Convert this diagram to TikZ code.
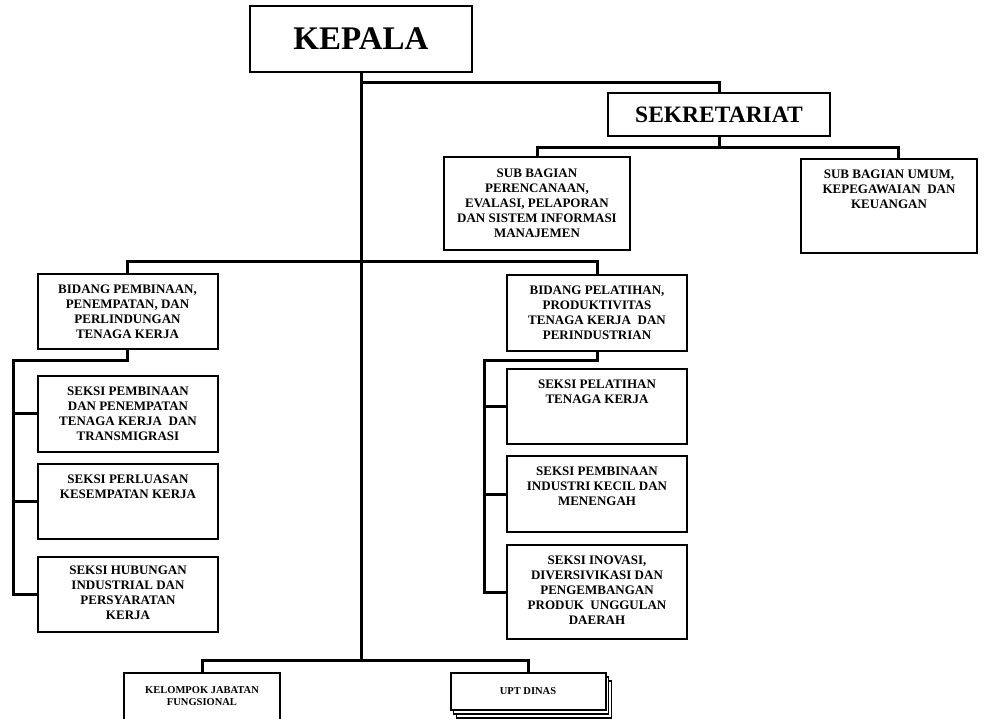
\documentclass[tikz,border=0pt]{standalone}
\usepackage{fontspec}
\setmainfont{Liberation Serif}
\usetikzlibrary{positioning,shadows}

\begin{document}
\begin{tikzpicture}[
    x=1pt, y=-1pt,
    unit/.style = {
      draw=black, fill=white, line width=2pt, inner sep=0pt,
      minimum width=180pt,
    },
    boxtext/.style = {
      anchor=north, yshift=-12pt, inner sep=0pt, align=center,
      font=\bfseries\fontsize{13}{15}\selectfont,
    },
    smalltext/.style = {
      anchor=north, yshift=-14pt, inner sep=0pt, align=center,
      font=\bfseries\fontsize{10.5}{12.5}\selectfont,
    },
    conn/.style = {
      black, line width=3pt,
    },
    node distance = 10pt,
  ]
  \useasboundingbox (0,0) rectangle (994,719);

  % top level
  \node[unit,minimum width=222pt,minimum height=66pt,
    font=\bfseries\fontsize{33}{36}\selectfont] (kepala) at (361,39) {KEPALA};
  \node[unit,minimum width=222pt,minimum height=43pt,
    font=\bfseries\fontsize{23.5}{26}\selectfont] (sekre) at (719,114.5) {SEKRETARIAT};
  \node[unit,minimum width=186pt,minimum height=93pt,
    label={[boxtext]north:{SUB BAGIAN\\PERENCANAAN,\\EVALASI, PELAPORAN\\DAN SISTEM INFORMASI\\MANAJEMEN}}]
    (perenc) at (537,204) {};
  \node[unit,minimum width=176pt,minimum height=94pt,
    label={[boxtext]north:{SUB BAGIAN UMUM,\\KEPEGAWAIAN~ DAN\\KEUANGAN}}]
    (umum) at (889,206) {};

  % bidang kiri
  \node[unit,minimum height=75pt,
    label={[boxtext]north:{BIDANG PEMBINAAN,\\PENEMPATAN, DAN\\PERLINDUNGAN\\TENAGA KERJA}}]
    (bidPemb) at (127.5,311.5) {};
  \node[unit,minimum height=76pt,
    label={[boxtext]north:{SEKSI PEMBINAAN\\DAN PENEMPATAN\\TENAGA KERJA~ DAN\\TRANSMIGRASI}}]
    (seksiPemb) at (128,414) {};
  \node[unit,minimum height=75pt,below=10pt of seksiPemb,
    label={[boxtext]north:{SEKSI PERLUASAN\\KESEMPATAN KERJA}}] (seksiPerl) {};
  \node[unit,minimum height=75pt,below=16pt of seksiPerl,
    label={[boxtext,yshift=2pt]north:{SEKSI HUBUNGAN\\INDUSTRIAL DAN\\PERSYARATAN\\KERJA}}] (seksiHub) {};

  % bidang kanan
  \node[unit,minimum height=76pt,
    label={[boxtext]north:{BIDANG PELATIHAN,\\PRODUKTIVITAS\\TENAGA KERJA~ DAN\\PERINDUSTRIAN}}]
    (bidPel) at (597,313) {};
  \node[unit,minimum height=75pt,
    label={[boxtext]north:{SEKSI PELATIHAN\\TENAGA KERJA}}] (seksiPel) at (597,406.5) {};
  \node[unit,minimum height=76pt,below=10pt of seksiPel,
    label={[boxtext]north:{SEKSI PEMBINAAN\\INDUSTRI KECIL DAN\\MENENGAH}}] (seksiInd) {};
  \node[unit,minimum height=94pt,below=11pt of seksiInd,
    label={[boxtext]north:{SEKSI INOVASI,\\DIVERSIVIKASI DAN\\PENGEMBANGAN\\PRODUK~ UNGGULAN\\DAERAH}}] (seksiIno) {};

  % bawah
  \node[unit,minimum width=156pt,minimum height=60pt,
    label={[smalltext]north:{KELOMPOK JABATAN\\FUNGSIONAL}}] (kelompok) at (202,703) {};
  \node[unit,minimum width=155pt,minimum height=37pt,
    double copy shadow={shadow xshift=3pt,shadow yshift=-4pt,draw=black,fill=white,line width=1.5pt},
    font=\bfseries\fontsize{10.5}{12.5}\selectfont] (upt) at (528,691.5) {UPT DINAS};

  % garis
  \draw[conn] (kepala.south) -- ([yshift=12pt]kepala.south |- upt.north);
  \draw[conn] ([yshift=-10pt]kepala.south) -| (sekre.north);
  \draw[conn] (sekre.south) -- ++(0,-11pt) coordinate (sekreJ);
  \draw[conn] (perenc.north) |- (sekreJ) -| ([xshift=9pt]umum.north);
  \draw[conn] (bidPemb.north) |- ([yshift=12pt]bidPel.north) -- (bidPel.north);
  \draw[conn] (bidPemb.south) -- ++(0,-11pt) -| ([xshift=-24pt]seksiHub.west) -- (seksiHub.west);
  \draw[conn] ([xshift=-24pt]seksiPemb.west) -- (seksiPemb.west);
  \draw[conn] ([xshift=-24pt]seksiPerl.west) -- (seksiPerl.west);
  \draw[conn] (bidPel.south) -- ++(0,-9pt) -| ([xshift=-22pt]seksiIno.west) -- (seksiIno.west);
  \draw[conn] ([xshift=-22pt]seksiPel.west) -- (seksiPel.west);
  \draw[conn] ([xshift=-22pt]seksiInd.west) -- (seksiInd.west);
  \draw[conn] (kelompok.north) |- ([yshift=12pt]upt.north) -- (upt.north);
\end{tikzpicture}
\end{document}
